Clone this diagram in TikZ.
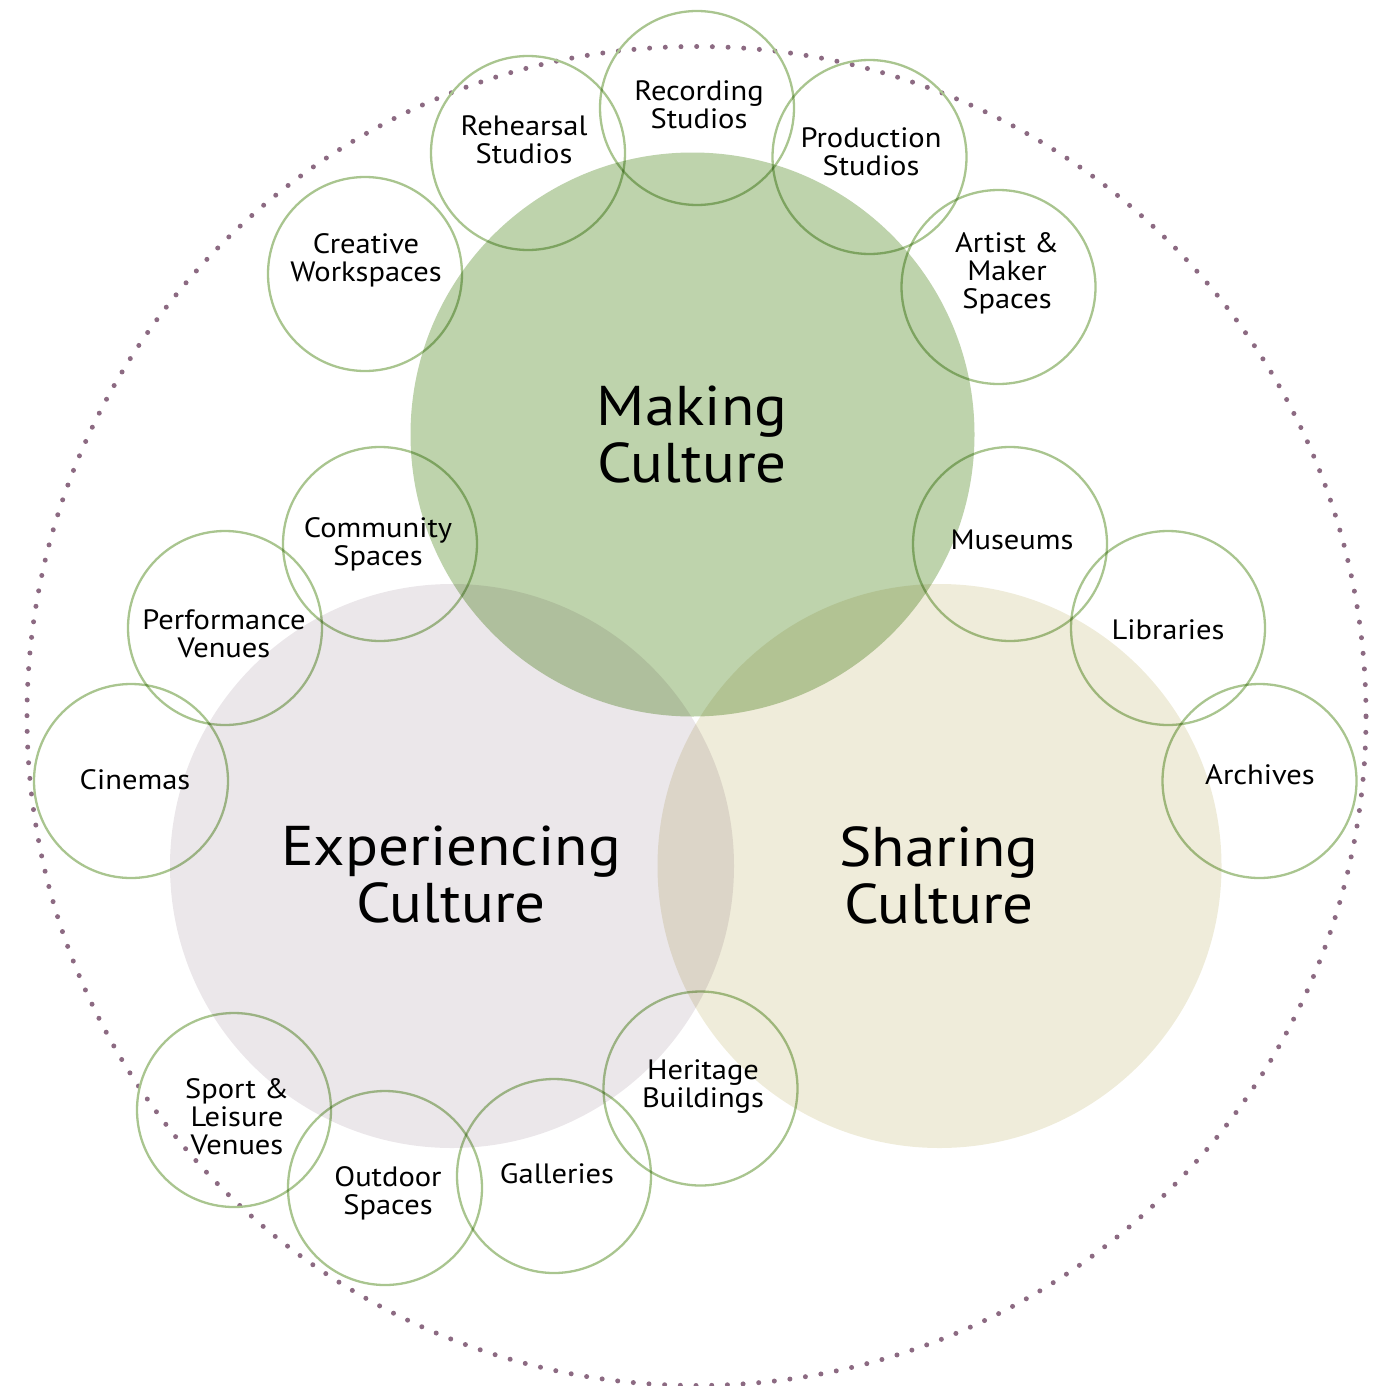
\documentclass[tikz,border=0pt]{standalone}
\usepackage{fontspec}
\setmainfont{PT Sans}[FakeStretch=1.09]
\definecolor{makegreen}{HTML}{BED3AC}
\definecolor{expgrey}{HTML}{EBE7EA}
\definecolor{sharebeige}{HTML}{EFECDA}
\definecolor{ringgreen}{HTML}{A9C58F}
\definecolor{dotmauve}{HTML}{8C6A82}
\tikzset{
  bigcirc/.style={circle, minimum size=282pt, inner sep=0pt, draw=none},
  ring/.style={circle, draw=ringgreen, line width=1.15pt, minimum size=97pt, inner sep=0pt},
  biglabel/.style={font=\fontsize{28}{28.5}\selectfont, align=center, inner sep=0pt},
  lab/.style={font=\fontsize{14}{14}\selectfont, align=center, inner sep=0pt},
  dotring/.style={draw=dotmauve, line width=2.5pt, line cap=round, dash pattern=on 0pt off 7.848pt}
}
\begin{document}
\begin{tikzpicture}[x=0.5pt,y=-0.5pt]
\useasboundingbox (0,0) rectangle (1382,1386);
\draw[dotring] (696.5,716) circle[radius=334.75pt];
\begin{scope}[blend group=multiply]
  \node[bigcirc, fill=expgrey] (exp) at (452,866) {};
  \node[bigcirc, fill=sharebeige] (share) at (939.5,866) {};
  \node[bigcirc, fill=makegreen] (make) at (692.5,434.5) {};
  \node[ring] (rehearsal) at (528,153) {};
  \node[ring] (recording) at (697,108) {};
  \node[ring] (production) at (869.5,157) {};
  \node[ring] (artist) at (998.5,287) {};
  \node[ring] (creative) at (365,274) {};
  \node[ring] (community) at (380,544) {};
  \node[ring] (performance) at (225,628) {};
  \node[ring] (cinemas) at (131,781) {};
  \node[ring] (museums) at (1010,544) {};
  \node[ring] (libraries) at (1168,628) {};
  \node[ring] (archives) at (1259.5,781) {};
  \node[ring] (heritage) at (700.5,1088.5) {};
  \node[ring] (galleries) at (554,1176) {};
  \node[ring] (outdoor) at (385,1188) {};
  \node[ring] (sport) at (234,1110) {};
\end{scope}
\node[biglabel] (tmake) at (692,435) {Making\\Culture};
\node[biglabel] (texp) at (451,875) {Experiencing\\Culture};
\node[biglabel] (tshare) at (939,875) {Sharing\\Culture};
\node[lab] (trehearsal) at (524,140) {Rehearsal\\Studios};
\node[lab] (trecording) at (699,105) {Recording\\Studios};
\node[lab] (tproduction) at (871,152) {Production\\Studios};
\node[lab] (tartist) at (1007,273) {Artist \&\\Maker\\Spaces};
\node[lab] (tcreative) at (366,260) {Creative\\Workspaces};
\node[lab] (tcommunity) at (378,544) {Community\\Spaces};
\node[lab] (tperformance) at (224,634) {Performance\\Venues};
\node[lab] (tcinemas) at (135,780) {Cinemas};
\node[lab] (tmuseums) at (1012,540) {Museums};
\node[lab] (tlibraries) at (1168,630) {Libraries};
\node[lab] (tarchives) at (1260,775) {Archives};
\node[lab] (theritage) at (703,1087) {Heritage\\Buildings};
\node[lab] (tgalleries) at (557,1174) {Galleries};
\node[lab] (toutdoor) at (388,1193) {Outdoor\\Spaces};
\node[lab] (tsport) at (237,1117) {Sport \&\\Leisure\\Venues};
\end{tikzpicture}
\end{document}
